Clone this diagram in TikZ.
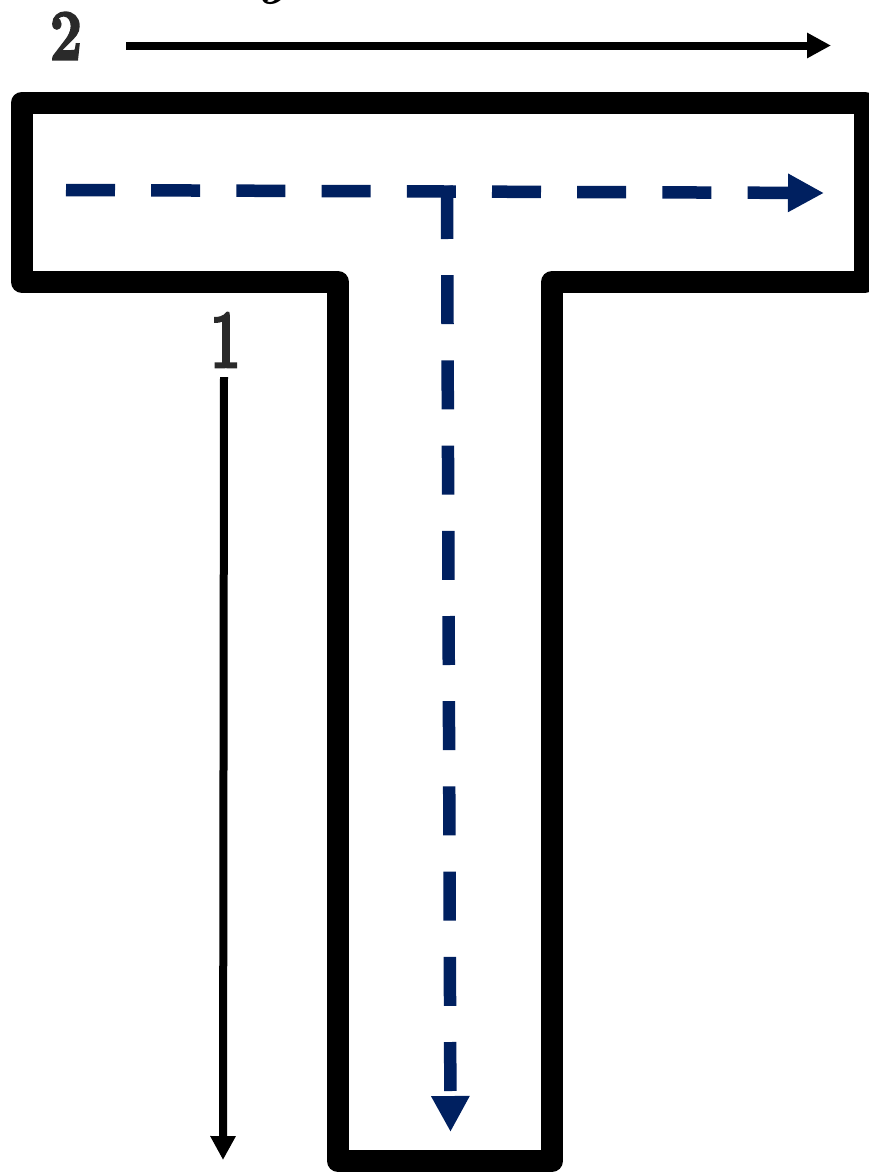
\documentclass[tikz,border=0pt]{standalone}
\usepackage{fontspec}
\newfontfamily\fatdigits[BoldFeatures={FakeBold=3}]{Latin Modern Roman}
\usetikzlibrary{arrows.meta}
\definecolor{navy}{HTML}{002060}
\definecolor{digit}{HTML}{2A2A2A}
\tikzset{
  wall/.style={line width=22pt,line join=round,black},
  flow/.style={line width=12.5pt,navy,dash pattern=on 49pt off 36.2pt,
     -{Triangle[length=36pt,width=36pt]}},
  flowseg/.style={line width=12.5pt,navy},
  dim/.style={line width=8pt,black,-{Triangle[length=24pt,width=24pt]}},
  digitlabel/.style={inner sep=0pt,text=digit,font=\fatdigits\bfseries\fontsize{72}{72}\selectfont}
}
\begin{document}
\begin{tikzpicture}[x=1pt,y=-1pt]
\useasboundingbox (0,0) rectangle (869,1173);
\fill[white] (0,0) rectangle (869,1173);
\begin{scope}
\clip (0,0) rectangle (869,1173);
\draw[wall] (22,102.5) -- (864.5,102.5) -- (864.5,282) -- (552,282) -- (552,1161)
  -- (338,1161) -- (338,282) -- (22,282) -- cycle;
\node[inner sep=0pt,font=\bfseries\itshape\fontsize{60}{60}\selectfont,anchor=base] (y) at (273,-8) {y};
\end{scope}
\coordinate (ha) at (66,190);
\coordinate (hb) at (824,193);
\coordinate (va) at (447,190);
\coordinate (vb) at (450.5,1132);
\coordinate (vt) at (446.5,186);
\draw[flow] (ha) -- (hb);
\draw[flowseg] (vt) -- (va);
\draw[flow] (va) -- (vb);
\coordinate (ta) at (126,45.5);
\coordinate (tb) at (831,45.5);
\draw[dim] (ta) -- (tb);
\coordinate (la) at (224,377);
\coordinate (lb) at (223,1160);
\draw[dim] (la) -- (lb);
\node[digitlabel,xscale=0.8] (two) at (66,36) {2};
\node[digitlabel,xscale=0.75,yscale=1.15] (one) at (225.5,340) {1};
\end{tikzpicture}
\end{document}
